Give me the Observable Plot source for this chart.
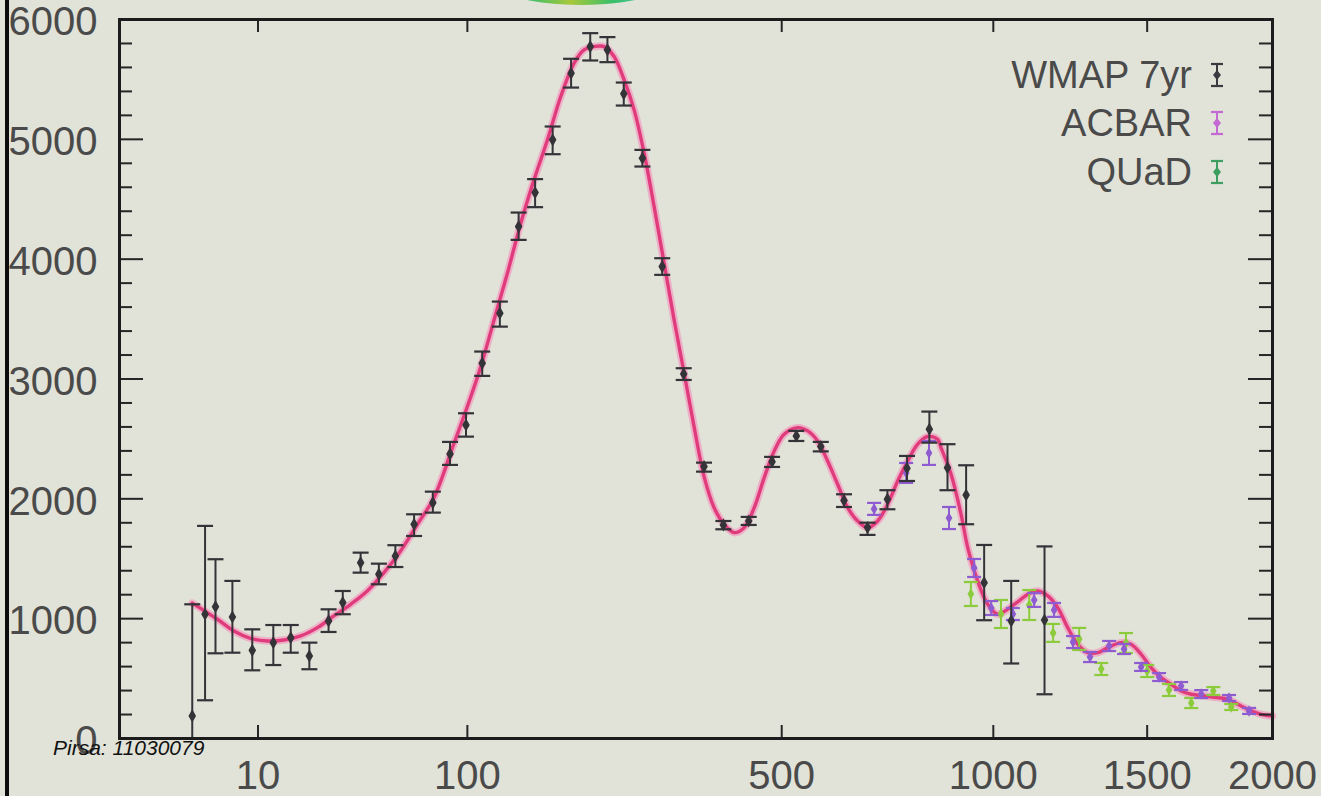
<!DOCTYPE html>
<html>
<head>
<meta charset="utf-8">
<script src="https://cdn.jsdelivr.net/npm/d3@7"></script>
<script src="https://cdn.jsdelivr.net/npm/@observablehq/plot@0.6"></script>
<style>
  html, body { margin: 0; padding: 0; }
  body { width: 1321px; height: 796px; background: #e1e2d8; position: relative; overflow: hidden;
         font-family: "Liberation Sans", Arial, sans-serif; }
  #chart { position: absolute; left: 0; top: 0; }
  .bar { position: absolute; left: 5px; top: 0; width: 4px; height: 796px; background: #0c0c0c; }
  .blob { position: absolute; left: 478px; top: -62px; width: 206px; height: 67px; border-radius: 50%;
          background: linear-gradient(90deg, #4fd6d0 0%, #3cbf6a 25%, #a8c83a 45%, #3cbf6a 65%, #3ec9d4 100%); }
  .legend { position: absolute; right: 108px; top: 0; }
  .row { position: absolute; right: 0; white-space: nowrap; display: flex; align-items: center; gap: 17px;
         font-size: 38px; line-height: 38px; color: #4a4a4a; }
  .pirsa { position: absolute; left: 53px; top: 737px; font-style: italic; font-size: 21px; line-height: 21px; color: #111; }
</style>
</head>
<body>
<div class="bar"></div>
<div class="blob"></div>
<div id="chart"></div>
<div class="legend" id="legend"></div>
<div class="pirsa">Pirsa: 11030079</div>
<script>
// ---- data ----
const wmapL  = [2,3,4,6,9,13,17,22,28,33,40,48,56,66,77,88,99,111,125,141,156,173,192,213,233,253,277,304,335,366,397,440,482,528,577,626,678,724,771,827,874,924,974,1052,1153];
const wmapD  = [188,1037,1100,1014,736,800,841,689,981,1134,1467,1371,1523,1788,1968,2375,2617,3132,3549,4272,4556,4996,5552,5774,5747,5380,4843,3938,3042,2269,1782,1815,2310,2525,2436,1987,1760,1997,2255,2581,2260,2032,1300,981,989];
const wmapLo = [0,319,711,716,569,613,716,578,889,1037,1384,1287,1431,1690,1885,2283,2519,3026,3437,4161,4434,4876,5432,5658,5644,5282,4773,3869,2992,2227,1746,1782,2266,2483,2396,1932,1699,1913,2149,2469,2072,1788,987,626,369];
const wmapHi = [1120,1774,1496,1315,911,947,947,800,1078,1231,1551,1459,1613,1871,2060,2475,2714,3229,3646,4389,4668,5107,5672,5886,5853,5474,4912,4008,3090,2302,1815,1849,2350,2567,2475,2038,1801,2072,2358,2728,2456,2280,1615,1315,1603];

const acbarL   = [693,769,826,878,946,994,1057,1121,1183,1244,1300,1365,1417,1478,1544,1627,1705,1817,1900];
const acbarD   = [1916,2216,2383,1840,1423,1089,1039,1156,1073,805,680,772,747,597,513,438,371,338,230];
const acbarErr = [50,83,100,92,75,58,50,58,58,50,42,42,42,33,33,33,33,25,25];

const quadL   = [937,1022,1106,1180,1264,1338,1424,1500,1581,1666,1753,1826];
const quadD   = [1206,1039,1114,881,831,580,797,563,405,296,396,263];
const quadErr = [100,117,125,75,92,50,83,50,50,42,33,25];

const modelL = [2,4.2,6.2,8.7,11.8,15.4,19.6,24.4,29.8,36,42.8,50.4,58.7,67.9,77.7,90.7,100,109.9,120.3,131.3,142.9,155,167.9,181.2,195.2,206.1,217.4,229.1,241,253.4,266.2,279.3,292.8,306.7,321,335.7,350.6,366.1,382,398.3,415,432.1,449.7,467.6,486,504.6,530.5,550.4,570.5,591.2,612.3,633.9,655.8,678.3,701.2,724.6,748.4,772.8,797.5,822.8,848.2,857,883.5,910.3,928.4,955.9,984.1,1012.6,1042,1071.3,1101.6,1132.1,1163.2,1194.7,1226.7,1259.5,1292.9,1326.4,1360.4,1406.5,1441.8,1478,1514.5,1551.5,1588.9,1627,1666,1718,1771,1812,1853,1895,1951,2000];
const modelD = [1130,995,897,836,814,822,856,925,1023,1120,1231,1384,1565,1788,2010,2464,2770,3103,3493,3883,4300,4662,4996,5357,5636,5747,5774,5774,5691,5497,5246,4885,4439,3966,3493,3048,2603,2185,1926,1788,1718,1760,1926,2177,2400,2539,2594,2567,2483,2316,2122,1926,1815,1760,1815,1955,2149,2316,2456,2520,2497,2427,2205,1871,1593,1315,1120,1037,1080,1140,1204,1231,1190,1092,925,786,716,716,758,800,786,703,591,508,452,396,369,355,341,327,285,244,202,188];

const xTickValues = [10, 100, 500, 1000, 1500, 2000];
const yTickValues = [0, 1000, 2000, 3000, 4000, 5000, 6000];
const legendNames = ["WMAP 7yr", "ACBAR", "QUaD"];

// ---- tables ----
const wmap  = wmapL.map((l, i) => ({l, D: wmapD[i], lo: wmapLo[i], hi: wmapHi[i]}));
const acbar = acbarL.map((l, i) => ({l, D: acbarD[i], lo: acbarD[i] - acbarErr[i], hi: acbarD[i] + acbarErr[i]}));
const quad  = quadL.map((l, i) => ({l, D: quadD[i], lo: quadD[i] - quadErr[i], hi: quadD[i] + quadErr[i]}));
const model = modelL.map((l, i) => ({l, D: modelD[i]}));
const yMinor = d3.range(0, 6001, 200).filter(v => v % 1000 !== 0);

// ---- styles ----
const W = 1321, H = 796, mL = 119, mR = 49, mT = 19, mB = 58;
const plotW = W - mL - mR, plotH = H - mT - mB;
const cWmap = "#333338", cAcbar = "#8e5cd0", cQuad = "#8ccc3c";
const cap = {draw(ctx, size) { const w = Math.sqrt(size / Math.PI); ctx.moveTo(-w, 0); ctx.lineTo(w, 0); }};

function errMarks(data, color, capR, dotR) {
  return [
    Plot.ruleX(data, {x: "l", y1: "lo", y2: "hi", stroke: color, strokeWidth: 2}),
    Plot.dot(data, {x: "l", y: "hi", symbol: cap, r: capR, stroke: color, strokeWidth: 2.2, fill: "none"}),
    Plot.dot(data, {x: "l", y: "lo", symbol: cap, r: capR, stroke: color, strokeWidth: 2.2, fill: "none"}),
    Plot.dot(data, {x: "l", y: "D", symbol: "diamond", r: dotR, fill: color, stroke: "none"})
  ];
}

const tickStroke = "#262626";
const chart = Plot.plot({
  width: W, height: H,
  marginLeft: mL, marginRight: mR, marginTop: mT, marginBottom: mB,
  x: {type: "pow", exponent: 0.4, domain: [0, 2000], label: null},
  y: {domain: [0, 6000], label: null},
  style: {background: "transparent", fontFamily: "'Liberation Sans', Arial, sans-serif", color: "#4a4a4a", fontSize: "40px", overflow: "visible"},
  marks: [
    // model curve
    Plot.line(model, {x: "l", y: "D", curve: "catmull-rom", stroke: "#f29bc0", strokeWidth: 7.5, strokeOpacity: 0.7}),
    Plot.line(model, {x: "l", y: "D", curve: "catmull-rom", stroke: "#e03c7c", strokeWidth: 3.4}),
    // data
    ...errMarks(quad, cQuad, 7, 3.5),
    ...errMarks(acbar, cAcbar, 7, 3.5),
    ...errMarks(wmap, cWmap, 8, 4),
    // ticks (inward)
    Plot.tickX(xTickValues, {insetTop: plotH - 13, stroke: tickStroke, strokeWidth: 2}),
    Plot.tickX(xTickValues, {insetBottom: plotH - 13, stroke: tickStroke, strokeWidth: 2}),
    Plot.tickY(yTickValues, {insetRight: plotW - 24, stroke: tickStroke, strokeWidth: 2}),
    Plot.tickY(yTickValues, {insetLeft: plotW - 24, stroke: tickStroke, strokeWidth: 2}),
    Plot.tickY(yMinor, {insetRight: plotW - 13, stroke: tickStroke, strokeWidth: 2}),
    Plot.tickY(yMinor, {insetLeft: plotW - 13, stroke: tickStroke, strokeWidth: 2}),
    // tick labels
    Plot.axisX({ticks: xTickValues, anchor: "bottom", tickSize: 0, tickPadding: 22, fontSize: 40, tickFormat: d => String(d), label: null}),
    Plot.axisY({ticks: yTickValues, anchor: "left", tickSize: 0, tickPadding: 22, fontSize: 40, tickFormat: d => String(d), label: null, dy: 3}),
    Plot.frame({stroke: "#1c1c1c", strokeWidth: 3})
  ]
});
document.getElementById("chart").appendChild(chart);

// ---- legend ----
const legendColors = ["#3a3a40", "#c468d4", "#3c9e5e"];
const legendTops = [56, 104, 153];
const legend = document.getElementById("legend");
legendNames.forEach((name, i) => {
  const row = document.createElement("div");
  row.className = "row";
  row.style.top = legendTops[i] + "px";
  const c = legendColors[i];
  row.innerHTML = `<span>${name}</span><svg width="16" height="26" viewBox="0 0 16 26" style="margin-right:-12px">
    <line x1="8" y1="2" x2="8" y2="24" stroke="${c}" stroke-width="2"/>
    <line x1="2" y1="2" x2="14" y2="2" stroke="${c}" stroke-width="2.2"/>
    <line x1="2" y1="24" x2="14" y2="24" stroke="${c}" stroke-width="2.2"/>
    <path d="M8 8 L12 13 L8 18 L4 13 Z" fill="${c}"/></svg>`;
  legend.appendChild(row);
});
</script>
</body>
</html>
